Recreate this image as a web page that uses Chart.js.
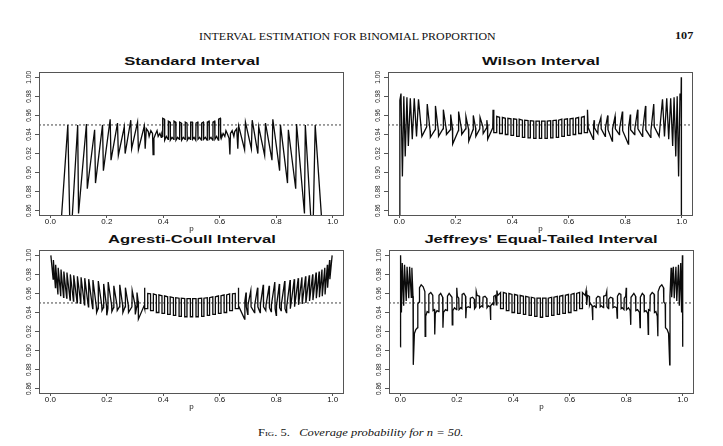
<!DOCTYPE html>
<html>
<head>
<meta charset="utf-8">
<script src="https://cdn.jsdelivr.net/npm/chart.js@4/dist/chart.umd.min.js"></script>
<style>
  html, body { margin: 0; padding: 0; background: #fff; }
  body { position: relative; width: 723px; height: 446px; overflow: hidden; color: #111;
         font-family: 'Liberation Serif', 'Times New Roman', serif; }
  .txt { position: absolute; white-space: nowrap; line-height: 10px; transform-origin: left center; }
  #runhead { left: 199px; top: 32px; font-size: 9.5px; transform: scaleX(1.255); }
  #folio { left: 675px; top: 31px; font-size: 10px; font-weight: bold; transform: scaleX(1.22); }
  #caption { left: 258px; top: 428px; font-size: 10px; transform: scaleX(1.25); }
  .ptitle { position: absolute; width: 300px; text-align: center; line-height: 12px;
            font-family: 'Liberation Sans', Arial, sans-serif; font-weight: bold; font-size: 10.5px;
            transform: scaleX(1.58); transform-origin: center center; }
  canvas { position: absolute; }
</style>
</head>
<body>
<div class="txt" id="runhead">INTERVAL ESTIMATION FOR BINOMIAL PROPORTION</div>
<div class="txt" id="folio">107</div>

<div class="ptitle" style="left:41.5px; top:55px;">Standard Interval</div>
<div class="ptitle" style="left:390.5px; top:55px;">Wilson Interval</div>
<div class="ptitle" style="left:41.5px; top:233px;">Agresti-Coull Interval</div>
<div class="ptitle" style="left:391px; top:233px;">Jeffreys' Equal-Tailed Interval</div>

<canvas id="c-std" width="360" height="176" style="left:0px; top:60px;"></canvas>
<canvas id="c-wil" width="371" height="176" style="left:352px; top:60px;"></canvas>
<canvas id="c-ac"  width="360" height="176" style="left:0px; top:240px;"></canvas>
<canvas id="c-jef" width="371" height="176" style="left:352px; top:240px;"></canvas>

<div class="txt" id="caption"><span style="font-variant: small-caps;">Fig.</span> 5.&nbsp;&nbsp; <i>Coverage probability for n = 50.</i></div>

<script>
/* global Chart */

// ---------- Data ----------

const xTicks = [0, 0.2, 0.4, 0.6, 0.8, 1.0];
const yTicks = [0.86, 0.88, 0.90, 0.92, 0.94, 0.96, 0.98, 1.00];
const nominal = 0.95;

// Standard interval: p and coverage at the corners of the trace
const stdP = [
  0.032, 0.062, 0.071, 0.097, 0.100, 0.128, 0.131, 0.157, 0.160, 0.185, 0.188, 0.212, 0.215, 0.238, 0.241, 0.262, 0.265, 0.285, 0.288, 0.309, 0.312, 0.333, 0.336,
  0.340, 0.347, 0.350, 0.356, 0.362, 0.364, 0.367, 0.372, 0.378, 0.382, 0.388, 0.393, 0.395,
  0.397, 0.398, 0.404, 0.405, 0.411,
  0.417, 0.418, 0.424, 0.425, 0.431,
  0.437, 0.438, 0.444, 0.445, 0.451,
  0.457, 0.458, 0.464, 0.465, 0.471,
  0.477, 0.478, 0.484, 0.485, 0.491,
  0.496, 0.497, 0.503, 0.504, 0.509,
  0.515, 0.516, 0.522, 0.523, 0.529,
  0.535, 0.536, 0.542, 0.543, 0.549,
  0.555, 0.556, 0.562, 0.563, 0.569,
  0.575, 0.576, 0.582, 0.583, 0.589,
  0.595, 0.596, 0.602, 0.603,
  0.605, 0.607, 0.612, 0.618, 0.622, 0.628, 0.633, 0.636, 0.638, 0.644, 0.650, 0.653, 0.660,
  0.664, 0.667, 0.688, 0.691, 0.712, 0.715, 0.735, 0.738, 0.759, 0.762, 0.785, 0.788, 0.812, 0.815, 0.840, 0.843, 0.869, 0.872, 0.900, 0.903, 0.929, 0.938, 0.968,
];
const stdC = [
  0.820, 0.950, 0.820, 0.950, 0.857, 0.951, 0.883, 0.945, 0.889, 0.950, 0.902, 0.956, 0.913, 0.952, 0.918, 0.948, 0.920, 0.955, 0.925, 0.953, 0.924, 0.949, 0.925,
  0.946, 0.943, 0.938, 0.944, 0.941, 0.919, 0.936, 0.940, 0.944, 0.938, 0.941, 0.937, 0.940,
  0.938, 0.957, 0.956, 0.934, 0.938,
  0.935, 0.954, 0.953, 0.934, 0.937,
  0.935, 0.954, 0.953, 0.934, 0.937,
  0.935, 0.953, 0.952, 0.934, 0.937,
  0.935, 0.953, 0.952, 0.934, 0.937,
  0.935, 0.953, 0.953, 0.935, 0.937,
  0.934, 0.952, 0.953, 0.935, 0.937,
  0.934, 0.952, 0.953, 0.935, 0.937,
  0.934, 0.953, 0.954, 0.935, 0.937,
  0.934, 0.953, 0.954, 0.935, 0.938,
  0.934, 0.956, 0.957, 0.938,
  0.940, 0.937, 0.941, 0.938, 0.944, 0.940, 0.936, 0.919, 0.941, 0.944, 0.938, 0.943, 0.946,
  0.925, 0.949, 0.924, 0.953, 0.925, 0.955, 0.920, 0.948, 0.918, 0.952, 0.913, 0.956, 0.902, 0.950, 0.889, 0.945, 0.883, 0.951, 0.857, 0.950, 0.820, 0.950, 0.820,
];

// Wilson interval
const wilP = [
  0.0015, 0.002, 0.006, 0.011, 0.016, 0.021, 0.027, 0.032, 0.039, 0.046, 0.053, 0.061, 0.068, 0.080, 0.097,
  0.099, 0.109, 0.110, 0.127, 0.128, 0.138, 0.139, 0.155, 0.156, 0.166, 0.167, 0.181, 0.182, 0.188, 0.189,
  0.209, 0.210, 0.220, 0.221, 0.235, 0.236, 0.245, 0.246, 0.261, 0.262, 0.270, 0.271, 0.285, 0.286, 0.296,
  0.297, 0.309, 0.310, 0.312, 0.313, 0.331, 0.332, 0.334,
  0.335, 0.335, 0.345, 0.345, 0.355, 0.355, 0.365, 0.365, 0.3755, 0.3755, 0.3845, 0.3845,
  0.3955, 0.3955, 0.4045, 0.4045, 0.4155, 0.4155, 0.4245, 0.4245, 0.436, 0.436, 0.444, 0.444,
  0.456, 0.456, 0.464, 0.464, 0.476, 0.476, 0.484, 0.484, 0.496, 0.496, 0.504, 0.504,
  0.516, 0.516, 0.524, 0.524, 0.536, 0.536, 0.544, 0.544, 0.556, 0.556, 0.564, 0.564,
  0.5755, 0.5755, 0.5845, 0.5845, 0.5955, 0.5955, 0.6045, 0.6045, 0.6155, 0.6155, 0.6245, 0.6245,
  0.635, 0.635, 0.645, 0.645, 0.655, 0.655, 0.665, 0.665,
  0.666, 0.668, 0.669, 0.687, 0.688, 0.690, 0.691, 0.703, 0.704, 0.714, 0.715, 0.729, 0.730, 0.738, 0.739,
  0.754, 0.755, 0.764, 0.765, 0.779, 0.780, 0.790, 0.791, 0.811, 0.812, 0.818, 0.819, 0.833, 0.834, 0.844,
  0.845, 0.861, 0.862, 0.872, 0.873, 0.890, 0.891, 0.901, 0.903, 0.920, 0.932, 0.939, 0.947, 0.954, 0.961,
  0.968, 0.973, 0.979, 0.984, 0.989, 0.994, 0.9975, 0.9985, 0.999,
];
const wilC = [
  0.800, 0.976, 0.983, 0.896, 0.980, 0.917, 0.979, 0.928, 0.978, 0.935, 0.978, 0.938, 0.977, 0.938, 0.948,
  0.972, 0.944, 0.937, 0.945, 0.970, 0.945, 0.938, 0.946, 0.966, 0.946, 0.940, 0.945, 0.961, 0.947, 0.930,
  0.944, 0.964, 0.946, 0.940, 0.946, 0.959, 0.946, 0.933, 0.945, 0.960, 0.947, 0.938, 0.946, 0.958, 0.948,
  0.941, 0.947, 0.955, 0.950, 0.935, 0.947, 0.966, 0.957,
  0.959, 0.942, 0.942, 0.959, 0.958, 0.941, 0.941, 0.958, 0.957, 0.940, 0.940, 0.957,
  0.9565, 0.939, 0.939, 0.9565, 0.956, 0.938, 0.938, 0.956, 0.955, 0.937, 0.937, 0.955,
  0.9545, 0.9365, 0.9365, 0.9545, 0.954, 0.936, 0.936, 0.954, 0.954, 0.936, 0.936, 0.954,
  0.954, 0.936, 0.936, 0.954, 0.9545, 0.9365, 0.9365, 0.9545, 0.955, 0.937, 0.937, 0.955,
  0.956, 0.938, 0.938, 0.956, 0.9565, 0.939, 0.939, 0.9565, 0.957, 0.940, 0.940, 0.957,
  0.958, 0.941, 0.941, 0.958, 0.959, 0.942, 0.942, 0.959,
  0.957, 0.966, 0.947, 0.935, 0.950, 0.955, 0.947, 0.941, 0.948, 0.958, 0.946, 0.938, 0.947, 0.960, 0.945,
  0.933, 0.946, 0.959, 0.946, 0.940, 0.946, 0.964, 0.944, 0.930, 0.947, 0.961, 0.945, 0.940, 0.946, 0.966,
  0.946, 0.938, 0.945, 0.970, 0.945, 0.937, 0.944, 0.972, 0.948, 0.938, 0.977, 0.938, 0.978, 0.935, 0.978,
  0.928, 0.979, 0.917, 0.980, 0.896, 0.983, 0.976, 1.000, 0.800,
];

// Agresti-Coull interval
const acP = [
  0.002, 0.010, 0.011, 0.018, 0.019, 0.027, 0.028, 0.037, 0.038, 0.047, 0.048, 0.058, 0.059, 0.070, 0.071,
  0.082, 0.083, 0.095, 0.096, 0.108, 0.109, 0.121, 0.122, 0.135, 0.136, 0.150, 0.151, 0.163, 0.164, 0.169,
  0.170, 0.182, 0.183, 0.188, 0.189, 0.199, 0.200, 0.204, 0.205, 0.217, 0.218, 0.224, 0.225, 0.236, 0.237,
  0.245, 0.246, 0.256, 0.257, 0.265, 0.266, 0.276, 0.277, 0.289, 0.290, 0.300, 0.301, 0.306, 0.307, 0.311,
  0.312, 0.332, 0.333, 0.334,
  0.335, 0.335, 0.345, 0.345, 0.355, 0.355, 0.365, 0.365, 0.3755, 0.3755, 0.3845, 0.3845,
  0.3955, 0.3955, 0.4045, 0.4045, 0.4155, 0.4155, 0.4245, 0.4245, 0.436, 0.436, 0.444, 0.444,
  0.456, 0.456, 0.464, 0.464, 0.476, 0.476, 0.484, 0.484, 0.496, 0.496, 0.504, 0.504,
  0.516, 0.516, 0.524, 0.524, 0.536, 0.536, 0.544, 0.544, 0.556, 0.556, 0.564, 0.564,
  0.5755, 0.5755, 0.5845, 0.5845, 0.5955, 0.5955, 0.6045, 0.6045, 0.6155, 0.6155, 0.6245, 0.6245,
  0.635, 0.635, 0.645, 0.645, 0.655, 0.655, 0.665, 0.665,
  0.666, 0.667, 0.668, 0.688, 0.689, 0.693, 0.694, 0.699, 0.700, 0.710, 0.711, 0.723, 0.724, 0.734, 0.735,
  0.743, 0.744, 0.754, 0.755, 0.763, 0.764, 0.775, 0.776, 0.782, 0.783, 0.795, 0.796, 0.800, 0.801, 0.811,
  0.812, 0.817, 0.818, 0.830, 0.831, 0.836, 0.837, 0.849, 0.850, 0.864, 0.865, 0.878, 0.879, 0.891, 0.892,
  0.904, 0.905, 0.917, 0.918, 0.929, 0.930, 0.941, 0.942, 0.952, 0.953, 0.962, 0.963, 0.972, 0.973, 0.981,
  0.982, 0.989, 0.990, 0.998,
];
const acC = [
  1.000, 0.975, 0.995, 0.966, 0.990, 0.959, 0.987, 0.957, 0.985, 0.956, 0.983, 0.955, 0.982, 0.953, 0.980,
  0.952, 0.979, 0.950, 0.978, 0.949, 0.977, 0.948, 0.976, 0.946, 0.975, 0.944, 0.974, 0.946, 0.940, 0.944,
  0.973, 0.948, 0.942, 0.945, 0.970, 0.947, 0.937, 0.944, 0.972, 0.948, 0.941, 0.945, 0.968, 0.948, 0.942,
  0.946, 0.969, 0.948, 0.940, 0.946, 0.966, 0.948, 0.940, 0.946, 0.963, 0.948, 0.938, 0.946, 0.961, 0.952,
  0.933, 0.947, 0.966, 0.958,
  0.960, 0.944, 0.944, 0.960, 0.9595, 0.942, 0.942, 0.9595, 0.9585, 0.940, 0.940, 0.9585,
  0.9575, 0.939, 0.939, 0.9575, 0.9565, 0.938, 0.938, 0.9565, 0.9555, 0.937, 0.937, 0.9555,
  0.955, 0.936, 0.936, 0.955, 0.9545, 0.9355, 0.9355, 0.9545, 0.9545, 0.9355, 0.9355, 0.9545,
  0.9545, 0.9355, 0.9355, 0.9545, 0.955, 0.936, 0.936, 0.955, 0.9555, 0.937, 0.937, 0.9555,
  0.9565, 0.938, 0.938, 0.9565, 0.9575, 0.939, 0.939, 0.9575, 0.9585, 0.940, 0.940, 0.9585,
  0.9595, 0.942, 0.942, 0.9595, 0.960, 0.944, 0.944, 0.960,
  0.958, 0.966, 0.947, 0.933, 0.952, 0.961, 0.946, 0.938, 0.948, 0.963, 0.946, 0.940, 0.948, 0.966, 0.946,
  0.940, 0.948, 0.969, 0.946, 0.942, 0.948, 0.968, 0.945, 0.941, 0.948, 0.972, 0.944, 0.937, 0.947, 0.970,
  0.945, 0.942, 0.948, 0.973, 0.944, 0.940, 0.946, 0.974, 0.944, 0.975, 0.946, 0.976, 0.948, 0.977, 0.949,
  0.978, 0.950, 0.979, 0.952, 0.980, 0.953, 0.982, 0.955, 0.983, 0.956, 0.985, 0.957, 0.987, 0.959, 0.990,
  0.966, 0.995, 0.975, 1.000,
];

// Jeffreys' equal-tailed interval
const jefP = [
  0.000, 0.001, 0.004, 0.007, 0.012, 0.015, 0.021, 0.024, 0.030, 0.033, 0.039, 0.041, 0.045, 0.046, 0.050,
  0.055, 0.061, 0.062, 0.067, 0.068, 0.074, 0.081, 0.087, 0.088, 0.090, 0.095, 0.100, 0.101, 0.108, 0.115,
  0.116, 0.121, 0.122, 0.124, 0.130, 0.136, 0.137, 0.143, 0.150, 0.151, 0.153, 0.160, 0.166, 0.167, 0.173,
  0.183, 0.184, 0.186, 0.192, 0.199, 0.200, 0.202, 0.207, 0.208, 0.214, 0.218, 0.219, 0.225, 0.231, 0.232,
  0.234, 0.241, 0.247, 0.248, 0.256, 0.262, 0.263, 0.268, 0.269, 0.272, 0.280, 0.281, 0.288, 0.292, 0.293,
  0.300, 0.306, 0.307, 0.312, 0.318, 0.319, 0.321, 0.328, 0.330, 0.331, 0.337, 0.340, 0.342, 0.345,
  0.355, 0.355, 0.365, 0.365, 0.3755, 0.3755, 0.3845, 0.3845, 0.3955, 0.3955, 0.4045, 0.4045,
  0.4155, 0.4155, 0.4245, 0.4245, 0.436, 0.436, 0.444, 0.444, 0.456, 0.456, 0.464, 0.464,
  0.476, 0.476, 0.484, 0.484, 0.496, 0.496, 0.504, 0.504, 0.516, 0.516, 0.524, 0.524,
  0.536, 0.536, 0.544, 0.544, 0.556, 0.556, 0.564, 0.564, 0.5755, 0.5755, 0.5845, 0.5845,
  0.5955, 0.5955, 0.6045, 0.6045, 0.6155, 0.6155, 0.6245, 0.6245, 0.635, 0.635, 0.645, 0.645,
  0.655, 0.658, 0.660, 0.663, 0.669, 0.670, 0.672, 0.679, 0.681, 0.682, 0.688, 0.693, 0.694, 0.700, 0.707,
  0.708, 0.712, 0.719, 0.720, 0.728, 0.731, 0.732, 0.737, 0.738, 0.744, 0.752, 0.753, 0.759, 0.766, 0.768,
  0.769, 0.775, 0.781, 0.782, 0.786, 0.792, 0.793, 0.798, 0.800, 0.801, 0.808, 0.814, 0.816, 0.817, 0.827,
  0.833, 0.834, 0.840, 0.847, 0.849, 0.850, 0.857, 0.863, 0.864, 0.870, 0.876, 0.878, 0.879, 0.884, 0.885,
  0.892, 0.899, 0.900, 0.905, 0.910, 0.912, 0.913, 0.919, 0.926, 0.932, 0.933, 0.938, 0.939, 0.945, 0.950,
  0.954, 0.955, 0.959, 0.961, 0.967, 0.970, 0.976, 0.979, 0.985, 0.988, 0.993, 0.996, 0.999, 1.000,
];
const jefC = [
  0.904, 1.000, 0.940, 0.992, 0.947, 0.990, 0.952, 0.988, 0.955, 0.988, 0.956, 0.987, 0.957, 0.885, 0.918,
  0.922, 0.924, 0.949, 0.951, 0.966, 0.969, 0.967, 0.962, 0.915, 0.936, 0.941, 0.940, 0.959, 0.961, 0.958,
  0.942, 0.943, 0.917, 0.939, 0.942, 0.941, 0.958, 0.960, 0.956, 0.924, 0.940, 0.943, 0.942, 0.957, 0.960,
  0.956, 0.927, 0.942, 0.945, 0.943, 0.966, 0.957, 0.955, 0.943, 0.945, 0.944, 0.959, 0.960, 0.957, 0.934,
  0.945, 0.946, 0.945, 0.955, 0.956, 0.954, 0.944, 0.946, 0.962, 0.958, 0.957, 0.945, 0.947, 0.946, 0.956,
  0.957, 0.955, 0.945, 0.947, 0.946, 0.932, 0.947, 0.950, 0.948, 0.957, 0.958, 0.948, 0.963, 0.958,
  0.961, 0.944, 0.944, 0.961, 0.960, 0.942, 0.942, 0.960, 0.959, 0.940, 0.940, 0.959,
  0.958, 0.939, 0.939, 0.958, 0.957, 0.938, 0.938, 0.957, 0.956, 0.937, 0.937, 0.956,
  0.955, 0.936, 0.936, 0.955, 0.955, 0.935, 0.935, 0.955, 0.955, 0.936, 0.936, 0.955,
  0.956, 0.937, 0.937, 0.956, 0.957, 0.938, 0.938, 0.957, 0.958, 0.939, 0.939, 0.958,
  0.959, 0.940, 0.940, 0.959, 0.960, 0.942, 0.942, 0.960, 0.961, 0.944, 0.944, 0.961,
  0.958, 0.963, 0.948, 0.958, 0.957, 0.948, 0.950, 0.947, 0.932, 0.946, 0.947, 0.945, 0.955, 0.957, 0.956,
  0.946, 0.947, 0.945, 0.957, 0.958, 0.962, 0.946, 0.944, 0.954, 0.956, 0.955, 0.945, 0.946, 0.945, 0.934,
  0.957, 0.960, 0.959, 0.944, 0.945, 0.943, 0.955, 0.957, 0.966, 0.943, 0.945, 0.942, 0.927, 0.956, 0.960,
  0.957, 0.942, 0.943, 0.940, 0.924, 0.956, 0.960, 0.958, 0.941, 0.942, 0.939, 0.917, 0.943, 0.942, 0.958,
  0.961, 0.959, 0.940, 0.941, 0.936, 0.915, 0.962, 0.967, 0.969, 0.966, 0.951, 0.949, 0.924, 0.922, 0.918,
  0.885, 0.957, 0.987, 0.956, 0.988, 0.955, 0.988, 0.952, 0.990, 0.947, 0.992, 0.940, 1.000, 0.904,
];

// ---------- Layout ----------

const X_MIN = -0.04, X_MAX = 1.04;
const Y_MIN = 0.8544, Y_MAX = 1.0056;

const panels = [
  { id: 'c-std', P: stdP, C: stdC, yW: 39, xH: 20, pad: { left: 0, right: 16, top: 12, bottom: 0 }, pB: 3 },
  { id: 'c-wil', P: wilP, C: wilC, yW: 36, xH: 20, pad: { left: 0, right: 30, top: 12, bottom: 0 }, pB: 3 },
  { id: 'c-ac',  P: acP,  C: acC,  yW: 39, xH: 22, pad: { left: 0, right: 16, top: 10, bottom: 0 }, pB: 5 },
  { id: 'c-jef', P: jefP, C: jefC, yW: 37, xH: 22, pad: { left: 0, right: 29, top: 10, bottom: 0 }, pB: 5 },
];

Chart.defaults.font.family = "'Liberation Sans', Arial, sans-serif";

// plot frame on all four sides
const framePlugin = {
  id: 'frame',
  afterDatasetsDraw(chart) {
    const { ctx, chartArea: a } = chart;
    ctx.save();
    ctx.strokeStyle = '#555';
    ctx.lineWidth = 1;
    ctx.strokeRect(Math.round(a.left) + 0.5, Math.round(a.top) + 0.5,
      Math.round(a.right - a.left) - 1, Math.round(a.bottom - a.top) - 1);
    ctx.restore();
  },
};

function toPoints(P, C) {
  return P.map((p, i) => ({ x: p, y: C[i] }));
}

function makeChart(panel) {
  const canvas = document.getElementById(panel.id);
  return new Chart(canvas, {
    type: 'scatter',
    data: {
      datasets: [
        {
          data: toPoints(panel.P, panel.C),
          showLine: true,
          borderColor: '#0b0b0b',
          borderWidth: 1.3,
          pointRadius: 0,
          tension: 0,
          clip: 0,
        },
        {
          data: [{ x: X_MIN, y: nominal }, { x: X_MAX, y: nominal }],
          showLine: true,
          borderColor: '#444',
          borderWidth: 1,
          borderDash: [2, 2],
          pointRadius: 0,
          clip: 0,
        },
      ],
    },
    options: {
      responsive: false,
      animation: false,
      devicePixelRatio: 1,
      layout: { padding: panel.pad },
      plugins: { legend: { display: false }, tooltip: { enabled: false } },
      scales: {
        x: {
          type: 'linear',
          min: X_MIN,
          max: X_MAX,
          afterBuildTicks: s => { s.ticks = xTicks.map(v => ({ value: v })); },
          afterFit: s => { s.height = panel.xH; },
          border: { display: false },
          grid: { drawOnChartArea: false, tickLength: 2, color: '#555' },
          ticks: {
            callback: v => v.toFixed(1),
            font: { size: 8, lineHeight: 1 },
            color: '#111',
            padding: 0,
            maxRotation: 0,
            autoSkip: false,
          },
          title: {
            display: true,
            text: 'p',
            font: { size: 8, lineHeight: 1 },
            color: '#111',
            padding: { top: 0, bottom: panel.pB },
          },
        },
        y: {
          type: 'linear',
          min: Y_MIN,
          max: Y_MAX,
          afterBuildTicks: s => { s.ticks = yTicks.map(v => ({ value: v })); },
          afterFit: s => { s.width = panel.yW; },
          border: { display: false },
          grid: { drawOnChartArea: false, tickLength: 4, color: '#555' },
          ticks: {
            callback: v => v.toFixed(2),
            font: { size: 6.5, lineHeight: 1 },
            color: '#222',
            padding: -1,
            minRotation: 90,
            maxRotation: 90,
            crossAlign: 'center',
            autoSkip: false,
          },
        },
      },
    },
    plugins: [framePlugin],
  });
}

panels.forEach(makeChart);
</script>
</body>
</html>
